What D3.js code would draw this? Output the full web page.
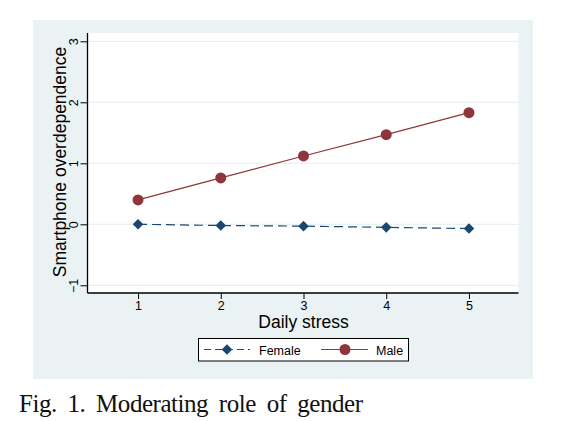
<!DOCTYPE html>
<html><head><meta charset="utf-8">
<script src="https://cdn.jsdelivr.net/npm/d3@7"></script>
<style>body{margin:0;background:#fff}svg{display:block}</style>
</head><body>
<script>
const stress = [1, 2, 3, 4, 5];
const female = [0.00, -0.02, -0.03, -0.05, -0.07];
const male = [0.40, 0.76, 1.12, 1.47, 1.83];
const yTicks = [-1, 0, 1, 2, 3];
const xTicks = [1, 2, 3, 4, 5];
const seriesNames = ["Female", "Male"];

const W = 566, H = 421;
const svg = d3.select("body").append("svg").attr("width", W).attr("height", H);
const font = "Arial, 'Liberation Sans', sans-serif";
const navy = "#1a476f", maroon = "#90353b";

svg.append("rect").attr("x", 33).attr("y", 20).attr("width", 500).attr("height", 359).attr("fill", "#eaf2f3");
const pL = 87.5, pR = 518.5, pT = 33, pB = 293;
svg.append("rect").attr("x", pL).attr("y", pT).attr("width", pR - pL).attr("height", pB - pT).attr("fill", "#fff");

const x = d3.scaleLinear().domain([0.4, 5.6]).range([88.4, 518.6]);
const y = d3.scaleLinear().domain([-1, 3]).range([285.3, 41.3]);

// grid
svg.append("g").selectAll("line").data(yTicks).join("line")
  .attr("x1", pL).attr("x2", pR).attr("y1", d => y(d)).attr("y2", d => y(d))
  .attr("stroke", "#e4eef0").attr("stroke-width", 1);

// axes
const yAxis = svg.append("g").attr("transform", `translate(${pL},0)`)
  .call(d3.axisLeft(y).tickValues(yTicks).tickSize(7).tickFormat(d3.format("d")));
yAxis.select(".domain").attr("d", `M0,${pT}V${pB}`).attr("stroke", "#000").attr("stroke-width", 1.3);
yAxis.selectAll(".tick line").attr("stroke", "#000");
yAxis.selectAll(".tick text").attr("font-family", font).attr("font-size", 12.5).attr("fill", "#000")
  .attr("text-anchor", "middle").attr("dy", null)
  .attr("transform", "rotate(-90)").attr("x", 0).attr("y", -10);

const xAxis = svg.append("g").attr("transform", `translate(0,${pB})`)
  .call(d3.axisBottom(x).tickValues(xTicks).tickSize(6).tickPadding(2).tickFormat(d3.format("d")));
xAxis.select(".domain").attr("d", `M${pL},0H${pR}`).attr("stroke", "#000").attr("stroke-width", 1.3);
xAxis.selectAll(".tick line").attr("stroke", "#000");
xAxis.selectAll(".tick text").attr("font-family", font).attr("font-size", 12.5).attr("fill", "#000");

// axis titles
svg.append("text").attr("x", x(3)).attr("y", 328).attr("text-anchor", "middle")
  .attr("font-family", font).attr("font-size", 17.5).text("Daily stress");
svg.append("text").attr("transform", `translate(66,${162}) rotate(-90)`).attr("text-anchor", "middle")
  .attr("font-family", font).attr("font-size", 17.5).text("Smartphone overdependence");

// lines
const line = d3.line().x((d, i) => x(stress[i])).y(d => y(d));
svg.append("path").datum(female).attr("d", line).attr("fill", "none").attr("stroke", navy)
  .attr("stroke-width", 1.2).attr("stroke-dasharray", "9,5");
svg.append("path").datum(male).attr("d", line).attr("fill", "none").attr("stroke", maroon).attr("stroke-width", 1.2);

const diamond = d3.symbol().type(d3.symbolSquare).size(56);
svg.append("g").selectAll("path").data(female).join("path")
  .attr("d", diamond).attr("fill", navy)
  .attr("transform", (d, i) => `translate(${x(stress[i])},${y(d)}) rotate(45)`);
svg.append("g").selectAll("circle").data(male).join("circle")
  .attr("cx", (d, i) => x(stress[i])).attr("cy", d => y(d)).attr("r", 5.5).attr("fill", maroon);

// legend
const lg = svg.append("g");
lg.append("rect").attr("x", 198.5).attr("y", 338.5).attr("width", 210).attr("height", 22.5)
  .attr("fill", "#fff").attr("stroke", "#000").attr("stroke-width", 1);
lg.append("line").attr("x1", 204).attr("x2", 250).attr("y1", 349.5).attr("y2", 349.5)
  .attr("stroke", navy).attr("stroke-width", 1.2).attr("stroke-dasharray", "7,4");
lg.append("path").attr("d", diamond).attr("fill", navy).attr("transform", "translate(227,349.5) rotate(45)");
lg.append("text").attr("x", 259).attr("y", 354.5).attr("font-family", font).attr("font-size", 12.5).text(seriesNames[0]);
lg.append("line").attr("x1", 321).attr("x2", 368).attr("y1", 349.5).attr("y2", 349.5)
  .attr("stroke", maroon).attr("stroke-width", 1.2);
lg.append("circle").attr("cx", 345).attr("cy", 349.5).attr("r", 5.5).attr("fill", maroon);
lg.append("text").attr("x", 376).attr("y", 354.5).attr("font-family", font).attr("font-size", 12.5).text(seriesNames[1]);

// caption
svg.append("text").attr("x", 19).attr("y", 411.5).attr("font-family", "'Liberation Serif', 'Times New Roman', serif")
  .attr("font-size", 25).attr("word-spacing", 5).attr("textLength", 344).attr("lengthAdjust", "spacing")
  .attr("fill", "#111").text("Fig. 1. Moderating role of gender");
</script>
</body></html>
